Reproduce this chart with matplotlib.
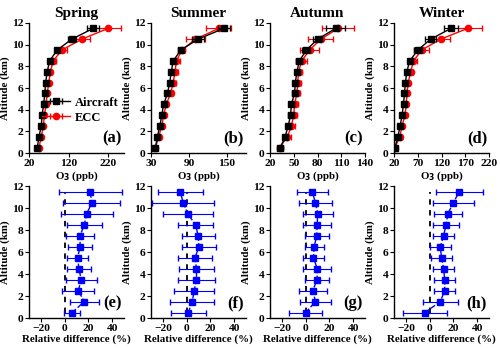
import matplotlib
matplotlib.use("Agg")
import matplotlib.pyplot as plt
import numpy as np

plt.rcParams['font.family'] = ['Liberation Serif', 'DejaVu Serif']
plt.rcParams['font.weight'] = 'bold'
plt.rcParams['axes.labelweight'] = 'bold'

altitude = [0.5, 1.5, 2.5, 3.5, 4.5, 5.5, 6.5, 7.5, 8.5, 9.5, 10.5, 11.5]
seasons = ["Spring", "Summer", "Autumn", "Winter"]
top_letters = ["(a)", "(b)", "(c)", "(d)"]
bot_letters = ["(e)", "(f)", "(g)", "(h)"]

# Aircraft O3 (ppb)
air_spring = [41, 45, 51, 53, 57, 60, 62, 66, 72, 91, 128, 182]
air_summer = [37, 40, 44, 47, 50, 56, 59.5, 62, 65, 77, 104, 145]
air_autumn = [33, 39, 43, 46, 47, 51, 52, 54, 57, 66, 80, 103]
air_winter = [22, 28, 33, 37, 40, 42, 44, 47, 53, 70, 97, 140]
air_err_spring = [3, 3, 3, 3, 3, 3, 3, 3, 4, 6, 10, 15]
air_err_summer = [2, 2, 2, 2, 2, 2, 2, 3, 3, 4, 10, 10]
air_err_autumn = [3, 3, 3, 3, 3, 3, 3, 3, 4, 5, 6, 12]
air_err_winter = [3, 3, 3, 3, 3, 3, 3, 3, 4, 8, 12, 15]

# ECC O3 (ppb)
ecc_spring = [45, 51, 56, 59, 63, 66, 70, 74, 81, 103, 153, 220]
ecc_summer = [37, 42, 47, 50, 54, 61, 65, 68, 70, 79, 100, 137]
ecc_autumn = [32, 42, 47, 50, 51, 54, 55, 56, 60, 70, 84, 106]
ecc_winter = [22, 32, 37, 43, 46, 47, 50, 55, 61, 78, 118, 175]
ecc_err_spring = [3, 3, 3, 4, 4, 4, 4, 5, 6, 12, 20, 33]
ecc_err_summer = [3, 3, 3, 3, 3, 3, 4, 4, 5, 5, 15, 20]
ecc_err_autumn = [3, 4, 4, 4, 4, 4, 4, 5, 7, 12, 16, 20]
ecc_err_winter = [3, 4, 4, 4, 4, 4, 4, 5, 8, 15, 20, 30]

# Relative difference (%)
rd_spring = [6.3, 16.6, 11.5, 14, 12, 11, 13, 13, 16.6, 18.6, 23, 21.4]
rd_summer = [1.4, 4.7, 6.4, 8.3, 8.3, 7, 10.5, 9.7, 7.5, 0.8, -2.8, -5.5]
rd_autumn = [0, 8.3, 6, 9.7, 9.7, 6.6, 7.2, 9.4, 9.7, 10.2, 8.3, 5.5]
rd_winter = [-4, 9, 12.7, 12.7, 11.8, 10, 9, 11.8, 13.8, 15.4, 20, 25]
rd_err_spring = [7, 12, 13.5, 13, 10, 9, 10, 12, 15, 22, 24, 26.5]
rd_err_summer = [14.5, 18.5, 17, 15.5, 15, 14, 14, 14, 15, 21, 26, 19]
rd_err_autumn = [14, 13, 12, 10, 12, 9, 8, 10, 12, 12.7, 13.5, 13]
rd_err_winter = [18.5, 15, 9, 9, 9, 9, 9, 9, 11, 12, 17, 20]

top_xlims = [(20, 260), (30, 180), (20, 140), (20, 220)]
top_xticks = [[20, 120, 220], [30, 90, 150], [20, 50, 80, 110, 140], [20, 70, 120, 170, 220]]

air = [air_spring, air_summer, air_autumn, air_winter]
air_err = [air_err_spring, air_err_summer, air_err_autumn, air_err_winter]
ecc = [ecc_spring, ecc_summer, ecc_autumn, ecc_winter]
ecc_err = [ecc_err_spring, ecc_err_summer, ecc_err_autumn, ecc_err_winter]
rd = [rd_spring, rd_summer, rd_autumn, rd_winter]
rd_err = [rd_err_spring, rd_err_summer, rd_err_autumn, rd_err_winter]

fig = plt.figure(figsize=(5.0, 3.48), dpi=100)
lefts = [0.058, 0.302, 0.540, 0.788]
width = 0.19
TICK = 8.2
LAB = 7.8

def style(ax):
    for s in ['top', 'right']:
        ax.spines[s].set_visible(False)
    ax.spines['left'].set_linewidth(1.0)
    ax.spines['bottom'].set_linewidth(1.0)
    ax.tick_params(direction='out', length=3, width=0.8, labelsize=TICK, pad=1.2)
    for lab in ax.get_xticklabels() + ax.get_yticklabels():
        lab.set_fontweight('bold')

for i in range(4):
    ax = fig.add_axes([lefts[i], 0.560, width, 0.374])
    ax.errorbar(air[i], altitude, xerr=air_err[i], color='black', marker='s',
                markersize=4.5, lw=1, capsize=2, elinewidth=0.8, label='Aircraft', zorder=3)
    ax.errorbar(ecc[i], altitude, xerr=ecc_err[i], color='red', marker='o',
                markersize=4.5, lw=1, capsize=2, elinewidth=0.8, label='ECC', zorder=2)
    ax.set_xlim(*top_xlims[i])
    ax.set_xticks(top_xticks[i])
    ax.set_ylim(0, 12)
    ax.set_yticks(range(0, 13, 2))
    ax.set_title(seasons[i], fontsize=11, fontweight='bold', pad=4)
    ax.set_xlabel('O$_3$ (ppb)', fontsize=LAB, fontweight='bold', labelpad=1)
    ax.set_ylabel('Altitude (km)', fontsize=LAB, fontweight='bold', labelpad=1)
    ax.text(0.98, 0.05, top_letters[i], transform=ax.transAxes, ha='right', va='bottom',
            fontsize=12, fontweight='bold')
    style(ax)
    if i == 0:
        leg = ax.legend(loc='center right', bbox_to_anchor=(1.02, 0.33), frameon=False,
                        fontsize=9, handlelength=2.2, handletextpad=0.4, borderpad=0.1,
                        labelspacing=0.25)
        for t in leg.get_texts():
            t.set_fontweight('bold')

for i in range(4):
    ax = fig.add_axes([lefts[i], 0.086, width, 0.379])
    ax.plot([0] * len(altitude), altitude, color='black', lw=1.3, ls=(0, (3, 3)), zorder=1)
    ax.errorbar(rd[i], altitude, xerr=rd_err[i], color='blue', marker='s',
                markersize=4.5, lw=1, ls='--', capsize=2, elinewidth=0.8, zorder=3)
    ax.set_xlim(-30, 50)
    ax.set_xticks([-20, 0, 20, 40])
    ax.set_ylim(0, 12)
    ax.set_yticks(range(0, 13, 2))
    ax.set_xlabel('Relative difference (%)', fontsize=LAB, fontweight='bold', labelpad=1)
    ax.set_ylabel('Altitude (km)', fontsize=LAB, fontweight='bold', labelpad=1)
    ax.text(0.98, 0.05, bot_letters[i], transform=ax.transAxes, ha='right', va='bottom',
            fontsize=12, fontweight='bold')
    style(ax)

fig.savefig('out.png', dpi=100)
